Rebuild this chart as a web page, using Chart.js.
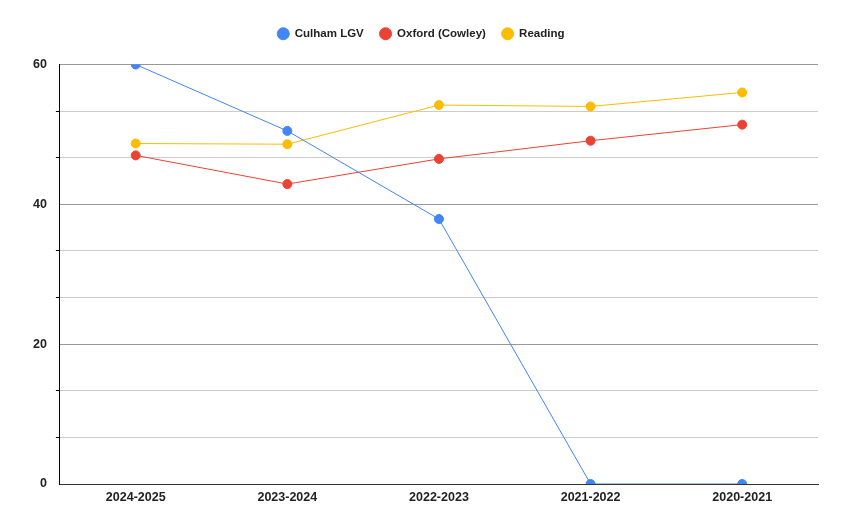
<!DOCTYPE html>
<html>
<head>
<meta charset="utf-8">
<script src="https://cdn.jsdelivr.net/npm/chart.js@4"></script>
<style>
html,body{margin:0;padding:0;background:#fff;}
#wrap{width:844px;height:531px;position:relative;}
</style>
</head>
<body>
<div id="wrap"><canvas id="c"></canvas></div>
<script>
const categories = ["2024-2025", "2023-2024", "2022-2023", "2021-2022", "2020-2021"];
const culham = [60, 50.5, 37.9, 0, 0];
const oxford = [47.0, 42.9, 46.5, 49.1, 51.4];
const reading = [48.7, 48.6, 54.2, 54.0, 56.0];
const yTickLabels = [0, 20, 40, 60];

const FONT = "'Liberation Sans', Arial, sans-serif";
function ds(label, data, color) {
  return {
    label, data,
    borderColor: color, backgroundColor: color,
    pointBackgroundColor: color, pointBorderColor: color,
    borderWidth: 1, pointRadius: 4.5, pointHoverRadius: 5,
    tension: 0
  };
}
function isMajor(v) {
  return yTickLabels.some(t => Math.abs(t - v) < 1e-6);
}
const legendSpace = {
  id: 'legendSpace',
  beforeInit(chart) {
    const orig = chart.legend.fit;
    chart.legend.fit = function () { orig.call(this); this.height += 15; };
  }
};
new Chart(document.getElementById('c'), {
  type: 'line',
  plugins: [legendSpace],
  data: {
    labels: categories,
    datasets: [
      ds('Culham LGV', culham, '#4285f4'),
      ds('Oxford (Cowley)', oxford, '#ea4335'),
      ds('Reading', reading, '#fbbc04')
    ]
  },
  options: {
    responsive: true,
    maintainAspectRatio: false,
    animation: false,
    layout: { padding: { top: 12, right: 26, bottom: 20, left: 24 } },
    plugins: {
      legend: {
        position: 'top',
        labels: {
          usePointStyle: true, pointStyle: 'circle', boxWidth: 12, boxHeight: 8.5,
          padding: 16, color: '#222',
          font: { family: FONT, size: 11.5, weight: 'bold' }
        }
      },
      tooltip: { enabled: false }
    },
    scales: {
      x: {
        offset: true,
        grid: { display: false, drawTicks: false },
        border: { display: true, color: '#333', width: 1 },
        ticks: { color: '#222', padding: 6, font: { family: FONT, size: 12.5, weight: 'bold' }, maxRotation: 0 }
      },
      y: {
        min: 0, max: 60,
        afterBuildTicks: (axis) => {
          const t = [];
          for (let i = 0; i <= 9; i++) t.push({ value: i * 20 / 3 });
          axis.ticks = t;
        },
        grid: {
          color: (ctx) => isMajor(ctx.tick.value) ? '#999999' : '#cccccc',
          tickColor: (ctx) => isMajor(ctx.tick.value) ? 'rgba(0,0,0,0)' : '#000',
          tickLength: 4,
          lineWidth: 1
        },
        border: { display: true, color: '#000', width: 1 },
        ticks: {
          color: '#222', padding: 9,
          font: { family: FONT, size: 12.5, weight: 'bold' },
          callback: (v) => isMajor(v) ? String(Math.round(v)) : ''
        }
      }
    }
  }
});
</script>
</body>
</html>
